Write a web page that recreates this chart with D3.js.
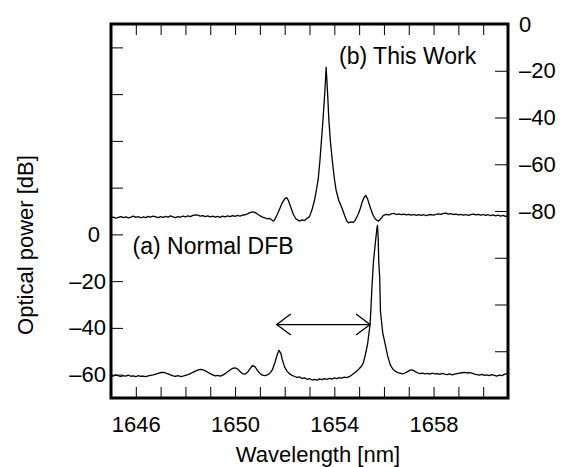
<!DOCTYPE html>
<html><head><meta charset="utf-8">
<script src="https://cdn.jsdelivr.net/npm/d3@7"></script>
<style>
body{margin:0;background:#fff}
svg{display:block}
text{font-family:"Liberation Sans",Arial,Helvetica,sans-serif}
</style>
</head><body>
<svg id="c" width="567" height="467"></svg>
<script>
// (a) Normal DFB, left axis [dB]
const traceA = [
[1645.0,-60.3],[1645.1,-60.6],[1645.2,-60.1],[1645.3,-60.5],[1645.4,-60.8],[1645.5,-60.4],[1645.6,-60.6],[1645.7,-60.2],[1645.8,-60.7],[1645.9,-60.5],
[1646.0,-60.9],[1646.1,-60.4],[1646.2,-60.7],[1646.3,-60.6],[1646.4,-60.9],[1646.5,-60.5],[1646.6,-60.3],[1646.7,-60.1],[1646.8,-59.8],[1646.9,-59.5],
[1647.0,-59.1],[1647.1,-59.0],[1647.2,-59.3],[1647.3,-59.7],[1647.4,-60.1],[1647.5,-60.5],[1647.6,-60.7],[1647.7,-60.4],[1647.8,-60.8],[1647.9,-60.6],
[1648.0,-60.3],[1648.1,-60.0],[1648.2,-59.6],[1648.3,-59.0],[1648.4,-58.5],[1648.5,-58.1],[1648.6,-57.8],[1648.7,-57.9],[1648.8,-58.4],[1648.9,-59.0],
[1649.0,-59.6],[1649.1,-60.1],[1649.2,-60.5],[1649.3,-60.3],[1649.4,-60.6],[1649.5,-60.2],[1649.6,-59.6],[1649.7,-58.8],[1649.8,-58.0],[1649.9,-57.3],
[1650.0,-57.1],[1650.1,-57.6],[1650.2,-58.7],[1650.3,-59.6],[1650.4,-59.8],[1650.5,-59.0],[1650.6,-57.5],[1650.7,-56.1],[1650.8,-56.6],[1650.9,-58.2],
[1651.0,-59.5],[1651.1,-60.2],[1651.2,-60.4],[1651.3,-60.1],[1651.4,-59.5],[1651.5,-58.0],[1651.6,-55.0],[1651.7,-51.5],[1651.77,-49.6],[1651.85,-51.0],
[1651.9,-53.5],[1652.0,-56.8],[1652.1,-58.6],[1652.2,-59.7],[1652.3,-60.3],[1652.4,-60.8],[1652.5,-61.2],[1652.6,-61.0],[1652.7,-61.6],[1652.8,-61.4],
[1652.9,-62.0],[1653.0,-61.7],[1653.1,-62.3],[1653.2,-62.0],[1653.3,-62.4],[1653.4,-61.8],[1653.5,-62.1],[1653.6,-61.7],[1653.7,-62.0],[1653.8,-61.6],
[1653.9,-61.9],[1654.0,-61.4],[1654.1,-61.7],[1654.2,-61.3],[1654.3,-61.5],[1654.4,-61.1],[1654.5,-61.3],[1654.6,-60.9],[1654.7,-60.2],[1654.8,-59.4],
[1654.9,-58.6],[1655.0,-57.5],[1655.1,-56.3],[1655.17,-55.0],[1655.25,-51.5],[1655.34,-47.0],[1655.44,-38.6],[1655.47,-33.0],[1655.52,-22.0],[1655.58,-11.4],
[1655.65,-4.0],[1655.72,2.9],[1655.74,3.8],[1655.77,-2.0],[1655.79,-11.4],[1655.83,-18.6],[1655.86,-33.0],[1655.95,-42.0],[1656.05,-47.0],[1656.15,-52.0],
[1656.25,-55.7],[1656.35,-57.5],[1656.45,-58.5],[1656.55,-59.1],[1656.65,-59.4],[1656.75,-59.7],[1656.85,-59.3],[1656.95,-58.7],[1657.05,-58.1],[1657.15,-58.0],
[1657.25,-58.6],[1657.35,-59.2],[1657.45,-59.6],[1657.55,-59.4],[1657.65,-59.7],[1657.75,-59.5],[1657.85,-59.8],[1657.95,-59.4],[1658.05,-59.7],[1658.15,-59.6],
[1658.25,-59.9],[1658.35,-59.5],[1658.45,-59.8],[1658.55,-60.0],[1658.65,-59.7],[1658.75,-60.1],[1658.85,-59.8],[1658.95,-59.6],[1659.05,-59.4],[1659.15,-59.2],
[1659.25,-59.0],[1659.35,-59.3],[1659.45,-59.1],[1659.55,-59.4],[1659.65,-59.8],[1659.75,-60.0],[1659.85,-60.2],[1659.95,-59.9],[1660.05,-60.3],[1660.15,-60.1],
[1660.25,-60.4],[1660.35,-60.0],[1660.45,-60.3],[1660.55,-60.6],[1660.65,-60.2],[1660.75,-60.4],[1660.85,-59.9],[1660.95,-59.6],[1661.0,-59.5]
];
// (b) This Work, right axis [dB]
const traceB = [
[1645.0,-82.9],[1645.1,-82.6],[1645.2,-83.1],[1645.3,-82.7],[1645.4,-82.4],[1645.5,-82.8],[1645.6,-82.5],[1645.7,-82.9],[1645.8,-82.6],[1645.9,-82.2],
[1646.0,-82.7],[1646.1,-82.4],[1646.2,-82.9],[1646.3,-82.5],[1646.4,-82.8],[1646.5,-82.3],[1646.6,-82.6],[1646.7,-82.2],[1646.8,-82.5],[1646.9,-82.8],
[1647.0,-82.4],[1647.1,-82.7],[1647.2,-82.3],[1647.3,-82.6],[1647.4,-82.1],[1647.5,-82.5],[1647.6,-82.8],[1647.7,-82.4],[1647.8,-82.6],[1647.9,-82.2],
[1648.0,-82.5],[1648.1,-82.1],[1648.2,-82.4],[1648.3,-81.9],[1648.4,-81.7],[1648.5,-81.8],[1648.6,-82.2],[1648.7,-82.0],[1648.8,-82.4],[1648.9,-82.1],
[1649.0,-82.5],[1649.1,-82.2],[1649.2,-82.6],[1649.3,-82.3],[1649.4,-82.7],[1649.5,-82.2],[1649.6,-82.5],[1649.7,-82.1],[1649.8,-82.4],[1649.9,-82.0],
[1650.0,-82.3],[1650.1,-81.9],[1650.2,-82.2],[1650.3,-81.8],[1650.4,-81.6],[1650.5,-81.2],[1650.6,-80.7],[1650.7,-80.4],[1650.8,-80.6],[1650.9,-81.3],
[1651.0,-82.0],[1651.1,-82.6],[1651.2,-82.9],[1651.3,-83.4],[1651.4,-83.2],[1651.5,-84.0],[1651.55,-84.3],[1651.6,-83.6],[1651.7,-81.5],[1651.8,-79.0],
[1651.9,-76.5],[1652.0,-74.8],[1652.08,-74.3],[1652.15,-75.5],[1652.25,-78.5],[1652.35,-81.5],[1652.45,-83.3],[1652.55,-84.0],[1652.62,-84.3],[1652.7,-83.8],
[1652.8,-84.1],[1652.9,-83.2],[1653.0,-82.4],[1653.1,-79.5],[1653.2,-75.5],[1653.27,-71.5],[1653.35,-66.5],[1653.42,-58.5],[1653.48,-50.0],[1653.55,-40.0],
[1653.6,-32.0],[1653.64,-25.0],[1653.67,-18.5],[1653.7,-24.0],[1653.74,-32.0],[1653.78,-41.0],[1653.84,-50.0],[1653.92,-58.5],[1654.0,-66.0],[1654.07,-71.0],
[1654.18,-75.5],[1654.3,-78.5],[1654.42,-82.0],[1654.5,-84.3],[1654.57,-85.1],[1654.65,-84.7],[1654.77,-84.9],[1654.85,-83.8],[1654.97,-81.2],[1655.05,-78.8],
[1655.12,-76.3],[1655.2,-74.2],[1655.27,-73.3],[1655.34,-74.8],[1655.44,-78.2],[1655.55,-81.5],[1655.65,-83.4],[1655.72,-84.0],[1655.78,-84.3],[1655.85,-83.6],
[1655.92,-82.7],[1655.98,-81.9],[1656.1,-81.4],[1656.2,-81.7],[1656.3,-81.2],[1656.4,-81.0],[1656.5,-81.5],[1656.6,-81.2],[1656.7,-81.6],[1656.8,-81.3],
[1656.9,-81.7],[1657.0,-81.4],[1657.1,-81.8],[1657.2,-81.5],[1657.3,-81.9],[1657.4,-81.6],[1657.5,-81.9],[1657.6,-81.6],[1657.7,-82.0],[1657.8,-81.7],
[1657.9,-81.5],[1658.0,-81.8],[1658.1,-81.4],[1658.2,-81.2],[1658.3,-81.4],[1658.4,-81.0],[1658.5,-80.9],[1658.6,-81.3],[1658.7,-81.1],[1658.8,-81.5],
[1658.9,-81.3],[1659.0,-81.7],[1659.1,-81.4],[1659.2,-81.8],[1659.3,-81.5],[1659.4,-81.9],[1659.5,-81.6],[1659.6,-81.3],[1659.7,-81.7],[1659.8,-81.4],
[1659.9,-81.8],[1660.0,-81.5],[1660.1,-81.9],[1660.2,-81.6],[1660.3,-82.0],[1660.4,-81.7],[1660.5,-82.1],[1660.6,-81.8],[1660.7,-82.2],[1660.8,-81.9],
[1660.9,-82.3],[1661.0,-82.0]
];
const xDomain = [1645, 1661];
const xTicks = [1646,1647,1648,1649,1650,1651,1652,1653,1654,1655,1656,1657,1658,1659,1660];
const xLabels = [1646,1650,1654,1658];
const leftDomain = [-70, 90];
const leftTicks = [-60,-40,-20,0,20,40,60,80];
const leftLabels = [-60,-40,-20,0];
const rightDomain = [-160, 0];
const rightTicks = [-140,-120,-100,-80,-60,-40,-20,0];
const rightLabels = [-80,-60,-40,-20,0];
const arrowSpan = [1651.68, 1655.44];
const arrowLevel = -38.6;
const annotations = [
  {text:"(a) Normal DFB", wl:1645.87, db:-8.4, axis:"left"},
  {text:"(b) This Work", wl:1654.19, db:-17.1, axis:"right"}
];

const L=111, R=508, T=24, B=398, FS=22;
const svg = d3.select("#c");
const x = d3.scaleLinear().domain(xDomain).range([L,R]);
const yL = d3.scaleLinear().domain(leftDomain).range([B,T]);
const yR = d3.scaleLinear().domain(rightDomain).range([B,T]);
const fmt = v => v<0 ? "\u2013"+Math.abs(v) : String(v);

function styleAxis(g){
  g.select(".domain").remove();
  g.attr("font-family",null).attr("font-size",FS);
  g.selectAll("line").attr("stroke","#000").attr("stroke-width",1);
  g.selectAll("text").attr("fill","#000");
}

svg.append("g").attr("transform",`translate(0,${B})`)
  .call(d3.axisBottom(x).tickValues(xTicks).tickSizeInner(-11).tickSizeOuter(0).tickPadding(18)
    .tickFormat(d=>xLabels.includes(d)?String(d):""))
  .call(styleAxis);
svg.append("g").attr("transform",`translate(0,${T})`)
  .call(d3.axisTop(x).tickValues(xTicks).tickSizeInner(-11).tickSizeOuter(0).tickFormat(()=>""))
  .call(styleAxis);
const gl = svg.append("g").attr("transform",`translate(${L},0)`)
  .call(d3.axisLeft(yL).tickValues(leftTicks).tickSizeInner(-12).tickSizeOuter(0).tickPadding(5)
    .tickFormat(d=>leftLabels.includes(d)?fmt(d):""))
  .call(styleAxis);
gl.selectAll(".tick").filter(d=>d===0).select("text").attr("dx",-6);
svg.append("g").attr("transform",`translate(${R},0)`)
  .call(d3.axisRight(yR).tickValues(rightTicks).tickSizeInner(-13).tickSizeOuter(0).tickPadding(11)
    .tickFormat(d=>rightLabels.includes(d)?fmt(d):""))
  .call(styleAxis);

// traces
svg.append("path").datum(traceB)
  .attr("d", d3.line().x(d=>x(d[0])).y(d=>yR(d[1])))
  .attr("fill","none").attr("stroke","#000").attr("stroke-width",1.3).attr("stroke-linejoin","round");
svg.append("path").datum(traceA)
  .attr("d", d3.line().x(d=>x(d[0])).y(d=>yL(d[1])))
  .attr("fill","none").attr("stroke","#000").attr("stroke-width",1.3).attr("stroke-linejoin","round");

// arrow
const ay = yL(arrowLevel), ax0 = x(arrowSpan[0]), ax1 = x(arrowSpan[1]);
const ln = d3.line();
const ag = svg.append("g").attr("fill","none").attr("stroke","#000").attr("stroke-width",1.3);
ag.append("path").attr("d", ln([[ax0,ay],[ax1,ay]]));
ag.append("path").attr("d", ln([[ax0+14,ay-10.5],[ax0,ay],[ax0+14,ay+10.5]]));
ag.append("path").attr("d", ln([[ax1-14,ay-10.5],[ax1,ay],[ax1-14,ay+10.5]]));

// annotations
svg.selectAll("text.ann").data(annotations).enter().append("text").attr("class","ann")
  .attr("x",d=>x(d.wl)).attr("y",d=>(d.axis==="left"?yL:yR)(d.db))
  .attr("font-size",23).attr("fill","#000").text(d=>d.text);

// frame
svg.append("rect").attr("x",L).attr("y",T).attr("width",R-L).attr("height",B-T)
  .attr("fill","none").attr("stroke","#000").attr("stroke-width",3);

// axis titles
svg.append("text").attr("x",318).attr("y",462).attr("text-anchor","middle")
  .attr("font-size",FS).text("Wavelength [nm]");
svg.append("text").attr("transform","translate(33,245) rotate(-90)").attr("text-anchor","middle")
  .attr("font-size",FS).text("Optical power [dB]");
</script>
</body></html>
